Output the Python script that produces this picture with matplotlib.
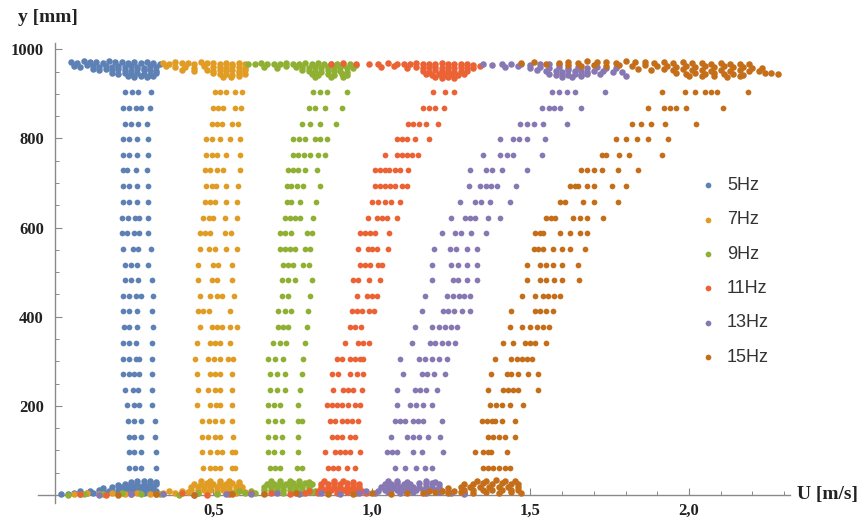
import matplotlib
matplotlib.use("Agg")
import matplotlib.pyplot as plt
from matplotlib.ticker import MultipleLocator, FixedLocator, FuncFormatter

# ---------------- data ----------------
labels = ["5Hz", "7Hz", "9Hz", "11Hz", "13Hz", "15Hz"]
colors = ["#5E81B5", "#E19C24", "#8FB032", "#EB6235", "#8778B3", "#C56E1A"]

row_y = [61, 96, 131, 166, 201, 236, 271, 306, 342, 377, 412, 447, 482,
         517, 552, 587, 622, 657, 693, 728, 763, 798, 833, 869, 904]

u5_rows = [
    [0.235, 0.252, 0.272, 0.318], [0.232, 0.25, 0.27, 0.318], [0.232, 0.25, 0.272, 0.315],
    [0.23, 0.248, 0.27, 0.315], [0.226, 0.248, 0.265, 0.305], [0.22, 0.245, 0.262, 0.305],
    [0.215, 0.232, 0.25, 0.265, 0.305], [0.215, 0.235, 0.255, 0.265, 0.305],
    [0.215, 0.235, 0.255, 0.305], [0.218, 0.235, 0.26, 0.31], [0.215, 0.235, 0.258, 0.305],
    [0.215, 0.232, 0.255, 0.27, 0.31], [0.222, 0.24, 0.262, 0.305], [0.222, 0.24, 0.26, 0.294],
    [0.215, 0.245, 0.262, 0.303], [0.21, 0.228, 0.25, 0.265, 0.294],
    [0.21, 0.23, 0.252, 0.265, 0.294], [0.215, 0.235, 0.26, 0.294], [0.215, 0.235, 0.26, 0.294],
    [0.215, 0.228, 0.255, 0.29], [0.215, 0.235, 0.26, 0.294], [0.215, 0.235, 0.26, 0.294],
    [0.222, 0.24, 0.262, 0.29], [0.215, 0.232, 0.255, 0.27, 0.3], [0.222, 0.242, 0.262, 0.302],
]
u7_rows = [
    [0.468, 0.489, 0.505, 0.52, 0.557, 0.567], [0.463, 0.489, 0.51, 0.526, 0.557, 0.567],
    [0.463, 0.484, 0.505, 0.52, 0.562], [0.463, 0.486, 0.506, 0.526, 0.557],
    [0.447, 0.489, 0.507, 0.52, 0.557], [0.452, 0.484, 0.505, 0.52, 0.557],
    [0.447, 0.489, 0.505, 0.52, 0.557], [0.442, 0.484, 0.503, 0.52, 0.546, 0.562],
    [0.447, 0.489, 0.505, 0.52, 0.552], [0.457, 0.494, 0.51, 0.526, 0.552, 0.573],
    [0.452, 0.468, 0.486, 0.552], [0.457, 0.489, 0.51, 0.526, 0.565],
    [0.452, 0.494, 0.51, 0.557], [0.452, 0.497, 0.513, 0.557],
    [0.457, 0.486, 0.505, 0.541, 0.573], [0.457, 0.474, 0.49, 0.536, 0.555],
    [0.468, 0.485, 0.5, 0.536, 0.573], [0.473, 0.49, 0.505, 0.541, 0.573],
    [0.478, 0.494, 0.508, 0.541, 0.578], [0.473, 0.49, 0.51, 0.531, 0.583],
    [0.478, 0.495, 0.512, 0.541, 0.583], [0.478, 0.495, 0.52, 0.552, 0.583],
    [0.494, 0.51, 0.526, 0.557, 0.578], [0.499, 0.515, 0.531, 0.568, 0.588],
    [0.505, 0.52, 0.54, 0.568, 0.59],
]
u9_rows = [
    [0.678, 0.694, 0.71, 0.762, 0.778], [0.673, 0.69, 0.715, 0.768], [0.673, 0.694, 0.715, 0.768],
    [0.673, 0.694, 0.715, 0.768, 0.778], [0.673, 0.69, 0.71, 0.768], [0.678, 0.7, 0.725, 0.773],
    [0.678, 0.7, 0.725, 0.778], [0.673, 0.694, 0.72, 0.783], [0.689, 0.71, 0.728, 0.789],
    [0.704, 0.72, 0.736, 0.794], [0.704, 0.725, 0.745, 0.799], [0.715, 0.735, 0.804],
    [0.715, 0.735, 0.757, 0.81], [0.72, 0.735, 0.752, 0.783, 0.8],
    [0.71, 0.725, 0.741, 0.757, 0.789, 0.805], [0.71, 0.727, 0.745, 0.794, 0.81],
    [0.725, 0.741, 0.757, 0.773, 0.815], [0.731, 0.746, 0.773, 0.825],
    [0.731, 0.746, 0.762, 0.783, 0.836], [0.736, 0.752, 0.768, 0.789, 0.826],
    [0.752, 0.768, 0.785, 0.804, 0.831, 0.852], [0.752, 0.77, 0.789, 0.82, 0.836, 0.857],
    [0.78, 0.804, 0.836, 0.886], [0.8, 0.82, 0.852, 0.907], [0.815, 0.836, 0.857, 0.92],
]
u11_rows = [
    [0.862, 0.878, 0.894, 0.92, 0.946], [0.852, 0.883, 0.9, 0.915, 0.931, 0.962],
    [0.873, 0.889, 0.905, 0.93, 0.946], [0.868, 0.883, 0.905, 0.92, 0.936, 0.957],
    [0.857, 0.873, 0.889, 0.905, 0.925, 0.946, 0.962], [0.878, 0.91, 0.925, 0.941, 0.968],
    [0.873, 0.894, 0.931, 0.952, 0.973], [0.889, 0.905, 0.931, 0.947, 0.962, 0.973],
    [0.915, 0.957, 0.973, 0.99], [0.931, 0.947, 0.965], [0.936, 0.952, 0.968, 0.99, 1.005],
    [0.952, 0.983, 1.0, 1.015], [0.941, 0.957, 0.99, 1.025], [0.962, 0.978, 0.994, 1.02, 1.031],
    [0.957, 0.988, 1.0, 1.015, 1.052], [0.962, 0.978, 0.994, 1.01, 1.055],
    [0.988, 1.015, 1.031, 1.047, 1.078], [1.0, 1.02, 1.04, 1.06, 1.088],
    [1.01, 1.025, 1.04, 1.057, 1.073, 1.094, 1.11], [1.01, 1.025, 1.04, 1.055, 1.073, 1.09, 1.115],
    [1.04, 1.078, 1.094, 1.11, 1.125, 1.145], [1.078, 1.094, 1.11, 1.136, 1.18],
    [1.115, 1.13, 1.15, 1.17, 1.207], [1.162, 1.18, 1.2, 1.227], [1.193, 1.23, 1.258],
]
u13_rows = [
    [1.072, 1.104, 1.14, 1.167, 1.19], [1.046, 1.062, 1.078, 1.13, 1.157, 1.224],
    [1.06, 1.11, 1.13, 1.15, 1.177, 1.215], [1.072, 1.088, 1.104, 1.13, 1.145, 1.16, 1.22],
    [1.08, 1.12, 1.14, 1.16, 1.19], [1.08, 1.136, 1.152, 1.17, 1.204],
    [1.097, 1.157, 1.175, 1.195, 1.23], [1.09, 1.15, 1.168, 1.19, 1.21, 1.236],
    [1.125, 1.183, 1.2, 1.22, 1.24, 1.262], [1.136, 1.19, 1.21, 1.23, 1.25, 1.267],
    [1.157, 1.224, 1.24, 1.26, 1.285, 1.31], [1.167, 1.236, 1.255, 1.275, 1.29, 1.31],
    [1.19, 1.256, 1.272, 1.3, 1.33], [1.19, 1.25, 1.27, 1.3, 1.33],
    [1.196, 1.246, 1.265, 1.3, 1.33], [1.22, 1.262, 1.28, 1.314, 1.36],
    [1.25, 1.293, 1.31, 1.325, 1.366, 1.404], [1.278, 1.325, 1.345, 1.372, 1.435],
    [1.306, 1.34, 1.36, 1.375, 1.393, 1.456], [1.31, 1.36, 1.38, 1.41, 1.488],
    [1.35, 1.404, 1.425, 1.445, 1.535], [1.404, 1.445, 1.465, 1.488, 1.546],
    [1.467, 1.49, 1.51, 1.54, 1.614], [1.535, 1.56, 1.575, 1.593, 1.66],
    [1.567, 1.59, 1.615, 1.64, 1.735],
]
u15_rows = [
    [1.35, 1.366, 1.383, 1.4, 1.42, 1.435], [1.325, 1.35, 1.366, 1.377, 1.425],
    [1.366, 1.383, 1.4, 1.42, 1.45], [1.346, 1.362, 1.378, 1.388, 1.41, 1.45],
    [1.372, 1.39, 1.41, 1.435, 1.476], [1.366, 1.413, 1.43, 1.445, 1.46, 1.524],
    [1.377, 1.425, 1.44, 1.46, 1.492, 1.524], [1.388, 1.44, 1.457, 1.473, 1.488, 1.504],
    [1.413, 1.445, 1.483, 1.5, 1.514, 1.55], [1.435, 1.472, 1.5, 1.52, 1.54, 1.56],
    [1.44, 1.514, 1.53, 1.55, 1.57], [1.472, 1.514, 1.54, 1.555, 1.575, 1.593],
    [1.488, 1.53, 1.55, 1.575, 1.6, 1.653], [1.488, 1.53, 1.55, 1.57, 1.6, 1.65],
    [1.51, 1.525, 1.54, 1.57, 1.6, 1.625, 1.672], [1.514, 1.53, 1.54, 1.593, 1.625, 1.656, 1.68],
    [1.55, 1.565, 1.577, 1.634, 1.656, 1.68, 1.73], [1.593, 1.61, 1.666, 1.7, 1.776],
    [1.625, 1.64, 1.65, 1.677, 1.7, 1.756, 1.803], [1.66, 1.677, 1.7, 1.725, 1.776, 1.84],
    [1.725, 1.74, 1.78, 1.81, 1.914], [1.77, 1.8, 1.835, 1.87, 1.934],
    [1.82, 1.85, 1.88, 1.925, 2.024], [1.87, 1.92, 1.94, 1.96, 1.99, 2.107],
    [1.914, 1.987, 2.02, 2.05, 2.07, 2.09, 2.186],
]

# ---- near-surface band (top) ----
u5_top_x = [0.05, 0.07, 0.09, 0.11, 0.13, 0.15, 0.17, 0.19, 0.21, 0.23, 0.25, 0.27, 0.29, 0.31, 0.33,
            0.06, 0.08, 0.10, 0.12, 0.14, 0.16, 0.18, 0.20, 0.22, 0.24, 0.26, 0.28, 0.30, 0.32,
            0.12, 0.14, 0.16, 0.18, 0.20, 0.22, 0.24, 0.26, 0.28, 0.30, 0.32,
            0.18, 0.20, 0.22, 0.24, 0.26, 0.28, 0.30, 0.32,
            0.23, 0.25, 0.27, 0.29, 0.31]
u5_top_y = [972, 970, 973, 971, 972, 970, 973, 971, 972, 970, 971, 969, 972, 970, 968,
            963, 961, 964, 962, 960, 963, 961, 962, 960, 963, 961, 959, 962, 960,
            956, 954, 955, 953, 956, 954, 952, 955, 953, 954, 952,
            947, 945, 946, 944, 947, 945, 943, 946,
            939, 937, 940, 938, 940]
u7_top_x = [0.34, 0.36, 0.38, 0.40, 0.42, 0.44, 0.46, 0.48, 0.50, 0.52, 0.54, 0.56, 0.58, 0.60,
            0.35, 0.38, 0.41, 0.44, 0.47, 0.50, 0.52, 0.54, 0.56, 0.58, 0.60,
            0.40, 0.44, 0.48, 0.50, 0.52, 0.54, 0.56, 0.58, 0.60,
            0.50, 0.52, 0.54, 0.56, 0.58, 0.60,
            0.53, 0.555, 0.58]
u7_top_y = [970, 968, 971, 969, 970, 968, 971, 969, 970, 968, 969, 967, 970, 968,
            962, 960, 961, 959, 962, 960, 961, 959, 962, 960, 958,
            954, 952, 953, 951, 954, 952, 953, 951, 953,
            946, 944, 945, 943, 946, 944,
            938, 937, 939]
u9_top_x = [0.61, 0.63, 0.65, 0.67, 0.69, 0.71, 0.73, 0.75, 0.77, 0.79, 0.81, 0.83, 0.85, 0.87, 0.89,
            0.91, 0.93, 0.95,
            0.66, 0.70, 0.73, 0.76, 0.78, 0.80, 0.82, 0.84, 0.86, 0.88, 0.90, 0.92, 0.94,
            0.78, 0.80, 0.82, 0.84, 0.86, 0.88, 0.90, 0.92,
            0.81, 0.83, 0.86, 0.88, 0.905, 0.92,
            0.82, 0.87, 0.91]
u9_top_y = [968, 966, 969, 967, 968, 966, 969, 967, 968, 970, 967, 969, 966, 968, 967,
            965, 967, 964,
            961, 959, 962, 960, 961, 959, 960, 958, 961, 959, 960, 958, 957,
            953, 951, 952, 950, 953, 951, 952, 950,
            944, 943, 945, 942, 944, 943,
            938, 937, 938]
u11_top_x = [0.87, 0.91, 0.95, 0.99, 1.02, 1.05, 1.08, 1.10, 1.12, 1.14, 1.16, 1.18, 1.20, 1.22,
             1.24, 1.26, 1.28, 1.30, 1.32, 1.34,
             1.03, 1.07, 1.11, 1.14, 1.16, 1.18, 1.20, 1.22, 1.24, 1.26, 1.28, 1.30, 1.32,
             1.16, 1.18, 1.20, 1.22, 1.24, 1.26, 1.28, 1.30,
             1.17, 1.19, 1.21, 1.23, 1.25, 1.27, 1.29,
             1.20, 1.22, 1.24, 1.26]
u11_top_y = [967, 969, 966, 968, 967, 969, 967, 968, 966, 969, 967, 968, 966, 969,
             967, 968, 966, 967, 965, 963,
             960, 962, 959, 961, 959, 961, 960, 958, 961, 959, 960, 958, 957,
             952, 950, 953, 951, 952, 950, 952, 951,
             944, 943, 945, 942, 944, 943, 945,
             937, 936, 938, 936]
u13_top_x = [1.35, 1.38, 1.41, 1.44, 1.47, 1.50, 1.53, 1.56, 1.59,
             1.42, 1.46, 1.50, 1.53, 1.56, 1.59, 1.62, 1.65, 1.68, 1.71, 1.74, 1.77,
             1.52, 1.55, 1.58, 1.60, 1.62, 1.64, 1.66, 1.68, 1.70, 1.73, 1.76, 1.79,
             1.56, 1.58, 1.60, 1.62, 1.64, 1.66, 1.68, 1.72,
             1.60, 1.63, 1.66, 1.80]
u13_top_y = [967, 965, 968, 966, 967, 965, 968, 966, 967,
             960, 962, 959, 961, 959, 960, 958, 960, 959, 961, 958, 957,
             953, 951, 952, 950, 953, 951, 952, 950, 952, 951, 950, 948,
             945, 943, 944, 942, 945, 943, 944, 945,
             938, 937, 939, 941]
u15_top_x = [1.47, 1.51, 1.55, 1.59, 1.62, 1.65, 1.68, 1.71, 1.74, 1.77, 1.80, 1.83, 1.86, 1.89,
             1.92, 1.95, 1.98, 2.01, 2.04, 2.07, 2.10, 2.13, 2.16, 2.19,
             1.62, 1.66, 1.70, 1.74, 1.78, 1.82, 1.86, 1.90, 1.93, 1.96, 1.99, 2.02, 2.05, 2.08,
             2.11, 2.14, 2.17, 2.20, 2.23,
             1.84, 1.88, 1.92, 1.95, 1.98, 2.01, 2.04, 2.07, 2.10, 2.13, 2.16, 2.19, 2.22,
             1.96, 1.99, 2.02, 2.05, 2.08, 2.11, 2.14, 2.17, 2.24, 2.26, 2.28,
             2.00, 2.04, 2.08, 2.12, 2.16]
u15_top_y = [969, 971, 968, 970, 972, 970, 973, 971, 972, 970, 973, 971, 972, 970,
             971, 969, 971, 969, 970, 968, 969, 967, 968, 966,
             964, 962, 965, 963, 964, 962, 964, 962, 963, 961, 963, 961, 962, 960,
             962, 960, 961, 959, 958,
             956, 954, 955, 953, 955, 953, 954, 952, 954, 952, 953, 951, 952,
             947, 945, 946, 944, 946, 944, 945, 943, 947, 946, 945,
             941, 939, 940, 938, 940]

# ---- near-bottom band ----
u5_bot_x = [0.02, 0.04, 0.06, 0.08, 0.10, 0.12, 0.14, 0.16, 0.18, 0.20, 0.22, 0.24, 0.26, 0.28, 0.30, 0.32,
            0.08, 0.11, 0.14, 0.17, 0.20, 0.22, 0.24, 0.26, 0.28, 0.30, 0.32,
            0.15, 0.18, 0.21, 0.23, 0.25, 0.27, 0.29, 0.31,
            0.20, 0.22, 0.24, 0.26, 0.28, 0.30, 0.32,
            0.24, 0.26, 0.28, 0.30, 0.32]
u5_bot_y = [2, 3, 4, 3, 5, 4, 5, 4, 6, 5, 6, 5, 6, 5, 6, 5,
            9, 10, 11, 10, 12, 11, 12, 11, 12, 11, 10,
            16, 17, 18, 17, 18, 17, 18, 17,
            23, 24, 25, 24, 25, 24, 25,
            30, 31, 32, 31, 30]
u7_bot_x = [0.06, 0.10, 0.14, 0.18, 0.22, 0.26, 0.30, 0.34, 0.38, 0.42, 0.45, 0.48, 0.51, 0.54, 0.57, 0.60,
            0.36, 0.40, 0.43, 0.45, 0.47, 0.49, 0.51, 0.53, 0.55, 0.57, 0.59,
            0.43, 0.45, 0.47, 0.49, 0.51, 0.53, 0.55, 0.57, 0.59,
            0.44, 0.46, 0.48, 0.50, 0.52, 0.54, 0.56, 0.58,
            0.46, 0.49, 0.52, 0.55, 0.58]
u7_bot_y = [2, 4, 3, 5, 2, 4, 3, 5, 4, 6, 5, 6, 5, 6, 5, 6,
            9, 10, 11, 12, 11, 12, 11, 12, 11, 12, 11,
            18, 17, 19, 18, 19, 18, 19, 18, 17,
            25, 24, 26, 25, 26, 25, 26, 24,
            31, 32, 31, 32, 30]
u9_bot_x = [0.04, 0.09, 0.15, 0.21, 0.27, 0.33, 0.39, 0.45, 0.51, 0.56, 0.60, 0.63, 0.66, 0.69, 0.72,
            0.75, 0.78, 0.81,
            0.58, 0.62, 0.66, 0.68, 0.70, 0.72, 0.74, 0.76, 0.78, 0.80, 0.82,
            0.66, 0.68, 0.70, 0.72, 0.74, 0.76, 0.78, 0.80,
            0.67, 0.69, 0.71, 0.73, 0.75, 0.77, 0.79, 0.81,
            0.68, 0.71, 0.74, 0.77, 0.80]
u9_bot_y = [1, 3, 2, 4, 2, 3, 1, 4, 2, 5, 4, 5, 4, 6, 5,
            6, 5, 6,
            9, 10, 11, 12, 11, 12, 11, 12, 11, 12, 10,
            18, 17, 19, 18, 19, 18, 19, 18,
            25, 24, 26, 25, 26, 25, 26, 24,
            31, 32, 31, 32, 30]
u11_bot_x = [0.08, 0.16, 0.24, 0.32, 0.40, 0.48, 0.55, 0.62, 0.68, 0.74, 0.79, 0.83, 0.86, 0.89, 0.92,
             0.95, 0.98,
             0.80, 0.83, 0.85, 0.87, 0.89, 0.91, 0.93, 0.95, 0.97,
             0.84, 0.86, 0.88, 0.90, 0.92, 0.94, 0.96,
             0.84, 0.86, 0.88, 0.90, 0.92, 0.94, 0.96,
             0.85, 0.88, 0.91, 0.94]
u11_bot_y = [2, 1, 3, 2, 4, 1, 3, 5, 4, 2, 5, 4, 6, 5, 6,
             5, 4,
             9, 10, 11, 12, 11, 12, 11, 12, 10,
             18, 17, 19, 18, 19, 18, 17,
             25, 24, 26, 25, 26, 25, 24,
             31, 32, 31, 30]
u13_bot_x = [0.14, 0.24, 0.34, 0.44, 0.54, 0.62, 0.70, 0.77, 0.84, 0.90, 0.96, 1.01, 1.05, 1.09, 1.13,
             1.17, 1.21, 1.25, 1.29,
             0.98, 1.02, 1.04, 1.06, 1.08, 1.10, 1.12, 1.14, 1.16, 1.18, 1.20, 1.22,
             1.03, 1.05, 1.07, 1.09, 1.11, 1.13, 1.15, 1.17, 1.19, 1.21,
             1.04, 1.06, 1.08, 1.10, 1.12, 1.15, 1.17, 1.19, 1.21,
             1.05, 1.08, 1.11, 1.17, 1.20]
u13_bot_y = [1, 3, 2, 1, 3, 2, 4, 3, 5, 2, 4, 5, 6, 5, 6,
             5, 6, 4, 3,
             8, 10, 11, 12, 11, 12, 11, 12, 11, 12, 11, 9,
             18, 17, 19, 18, 19, 18, 17, 19, 18, 17,
             25, 24, 26, 25, 24, 26, 25, 26, 24,
             31, 32, 30, 31, 30]
u15_bot_x = [0.20, 0.32, 0.44, 0.56, 0.66, 0.76, 0.86, 0.94, 1.00, 1.06, 1.11, 1.16, 1.20, 1.24, 1.28,
             1.32, 1.36, 1.40, 1.44, 1.47,
             1.18, 1.22, 1.26, 1.29, 1.32, 1.35, 1.38, 1.41, 1.44, 1.46,
             1.24, 1.28, 1.31, 1.34, 1.37, 1.40, 1.43, 1.46,
             1.29, 1.32, 1.35, 1.38, 1.41, 1.44, 1.46,
             1.33, 1.36, 1.39, 1.42, 1.45]
u15_bot_y = [1, 2, 1, 3, 2, 4, 2, 3, 4, 3, 5, 4, 6, 5, 6,
             5, 6, 5, 6, 5,
             8, 9, 10, 11, 12, 11, 12, 11, 12, 11,
             16, 17, 18, 19, 18, 19, 18, 17,
             24, 25, 26, 25, 26, 25, 24,
             31, 32, 33, 32, 31]

x_tick_values = [0.5, 1.0, 1.5, 2.0]
x_tick_labels = ["0,5", "1,0", "1,5", "2,0"]
y_tick_values = [200, 400, 600, 800, 1000]

series_rows = [u5_rows, u7_rows, u9_rows, u11_rows, u13_rows, u15_rows]
series_top = [(u5_top_x, u5_top_y), (u7_top_x, u7_top_y), (u9_top_x, u9_top_y),
              (u11_top_x, u11_top_y), (u13_top_x, u13_top_y), (u15_top_x, u15_top_y)]
series_bot = [(u5_bot_x, u5_bot_y), (u7_bot_x, u7_bot_y), (u9_bot_x, u9_bot_y),
              (u11_bot_x, u11_bot_y), (u13_bot_x, u13_bot_y), (u15_bot_x, u15_bot_y)]

# ---------------- plot ----------------
W, H = 866, 518
fig = plt.figure(figsize=(W / 100, H / 100), dpi=100)
ax = fig.add_axes([38 / W, 15 / H, 752 / W, 460 / H])
ax.set_xlim(-0.0536, 2.319)
ax.set_ylim(-18, 1014)

handles = []
for rows, (tx, ty), (bx, by), col, lab in zip(series_rows, series_top, series_bot, colors, labels):
    xs, ys = [], []
    for yv, row in zip(row_y, rows):
        xs.extend(row)
        ys.extend([yv] * len(row))
    h = ax.scatter(xs, ys, s=17, color=col, linewidths=0, zorder=3, label=lab)
    ax.scatter(list(bx) + list(tx), list(by) + list(ty), s=22, color=col, linewidths=0, zorder=3)
    handles.append(h)

axis_col = "#8a8a8a"
for side in ["top", "right"]:
    ax.spines[side].set_visible(False)
ax.spines["left"].set_position(("data", 0))
ax.spines["bottom"].set_position(("data", 0))
for side in ["left", "bottom"]:
    ax.spines[side].set_color(axis_col)
    ax.spines[side].set_linewidth(1.0)

ax.xaxis.set_major_locator(FixedLocator(x_tick_values))
ax.xaxis.set_major_formatter(FuncFormatter(
    lambda v, p: x_tick_labels[x_tick_values.index(round(v, 1))] if round(v, 1) in x_tick_values else ""))
ax.xaxis.set_minor_locator(MultipleLocator(0.1))
ax.yaxis.set_major_locator(FixedLocator(y_tick_values))
ax.yaxis.set_minor_locator(MultipleLocator(50))

serif = "Liberation Serif"
ax.tick_params(which="major", direction="in", length=5, width=0.8, color=axis_col,
               labelsize=12, labelcolor="#222222")
ax.tick_params(which="minor", direction="in", length=3, width=0.7, color=axis_col)
ax.tick_params(axis="x", which="major", pad=6)
ax.tick_params(axis="y", which="major", pad=8)
for t in ax.get_xticklabels() + ax.get_yticklabels():
    t.set_fontfamily(serif)
    t.set_fontweight("bold")

fig.text(18 / W, 1 - 18 / H, "y [mm]", fontsize=14, fontweight="bold", family=serif,
         ha="left", va="center", color="#222222")
fig.text(797 / W, 1 - 495 / H, "U [m/s]", fontsize=14, fontweight="bold", family=serif,
         ha="left", va="center", color="#222222")

leg = fig.legend(handles=handles, labels=labels, loc="upper left",
                 bbox_to_anchor=(699 / W, 1 - 177 / H), frameon=False,
                 borderpad=0, borderaxespad=0, handlelength=1.0, handletextpad=0.55,
                 labelspacing=0.96, scatterpoints=1,
                 prop={"family": "Liberation Sans", "size": 13})
for t in leg.get_texts():
    t.set_color("#333333")

fig.savefig("out.png", dpi=100)
